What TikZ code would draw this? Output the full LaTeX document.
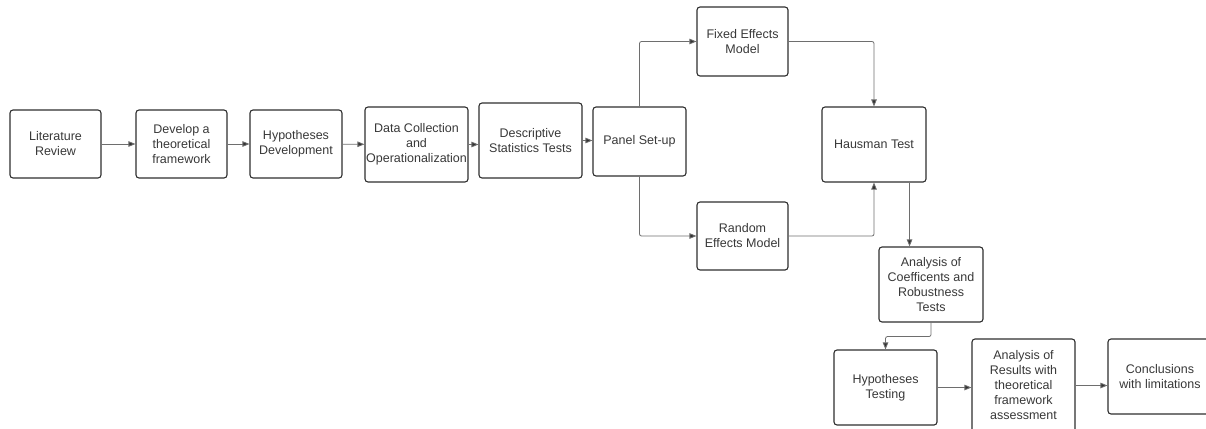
\documentclass[tikz,border=0pt]{standalone}
\usepackage{fontspec}
\setmainfont{Liberation Sans}
\usetikzlibrary{positioning,arrows.meta}
\tikzset{>={Triangle[length=7pt,width=5.5pt]}}

\definecolor{boxline}{HTML}{2E2E2E}
\definecolor{boxtext}{HTML}{383838}
\definecolor{linkline}{HTML}{6E6E6E}
\definecolor{tipfill}{HTML}{333333}

\begin{document}
\begin{tikzpicture}[x=1pt,y=-1pt,
  box/.style={draw=boxline,line width=1.1pt,rounded corners=3pt,align=center,
    inner sep=0pt,text=boxtext,font=\fontsize{12.5}{15}\selectfont},
  link/.style={draw=linkline,line width=0.8pt,rounded corners=2pt,
    -{Triangle[length=7pt,width=5.5pt,fill=tipfill]}}]
\clip (0,0) rectangle (1206,428);

% First row of steps
\node [box,minimum width=91,minimum height=68] (lit) at (55.5,144) {Literature\\Review};
\node [box,minimum width=91,minimum height=68] (frame) at (181.5,144) {Develop a\\theoretical\\framework};
\node [box,minimum width=92,minimum height=68] (hypdev) at (296,144) {Hypotheses\\Development};
\node [box,minimum width=103,minimum height=75] (data) at (416.5,144.5) {Data Collection\\and\\Operationalization};
\node [box,minimum width=103,minimum height=75] (desc) at (530.5,140.5) {Descriptive\\Statistics Tests};
\node [box,minimum width=93,minimum height=69] (panel) at (639.5,141.5) {Panel Set-up};

% Models and test
\node [box,minimum width=91,minimum height=69] (fixed) at (742.5,41.5) {Fixed Effects\\Model};
\node [box,minimum width=91,minimum height=68] (random) at (742.5,236) {Random\\Effects Model};
\node [box,minimum width=104,minimum height=75] (hausman) at (874,144.5) {Hausman Test};
\node [box,minimum width=104,minimum height=75] (coef) at (931,284.5) {Analysis of\\Coefficents and\\Robustness\\Tests};

% Last row
\node [box,minimum width=103,minimum height=75] (hyptest) at (885.5,387.5) {Hypotheses\\Testing};
\node [box,minimum width=103,minimum height=93] (results) at (1023.5,385.5) {Analysis of\\Results with\\theoretical\\framework\\assessment};
\node [box,minimum width=104,minimum height=75] (concl) at (1160,376.5) {Conclusions\\with limitations};

% Connectors
\draw [link] (lit) -- (frame);
\draw [link] (frame) -- (hypdev);
\draw [link] (hypdev) -- (data);
\draw [link] (data.east) -- (data.east -| desc.west);
\draw [link] (desc.east) -- (desc.east -| panel.west);
\draw [link] (panel.north) |- (fixed.west);
\draw [link] (panel.south) |- (random.west);
\draw [link] (fixed.east) -| (hausman.north);
\draw [link] (random.east) -| (hausman.south);
\draw [link] ([xshift=-17pt]hausman.south east) -- ([xshift=-17pt]hausman.south east |- coef.north);
\draw [link] (coef.south) -- ++(0,14) -| (hyptest.north);
\draw [link] (hyptest.east) -- (hyptest.east -| results.west);
\draw [link] (results.east) -- (results.east -| concl.west);

\end{tikzpicture}
\end{document}
